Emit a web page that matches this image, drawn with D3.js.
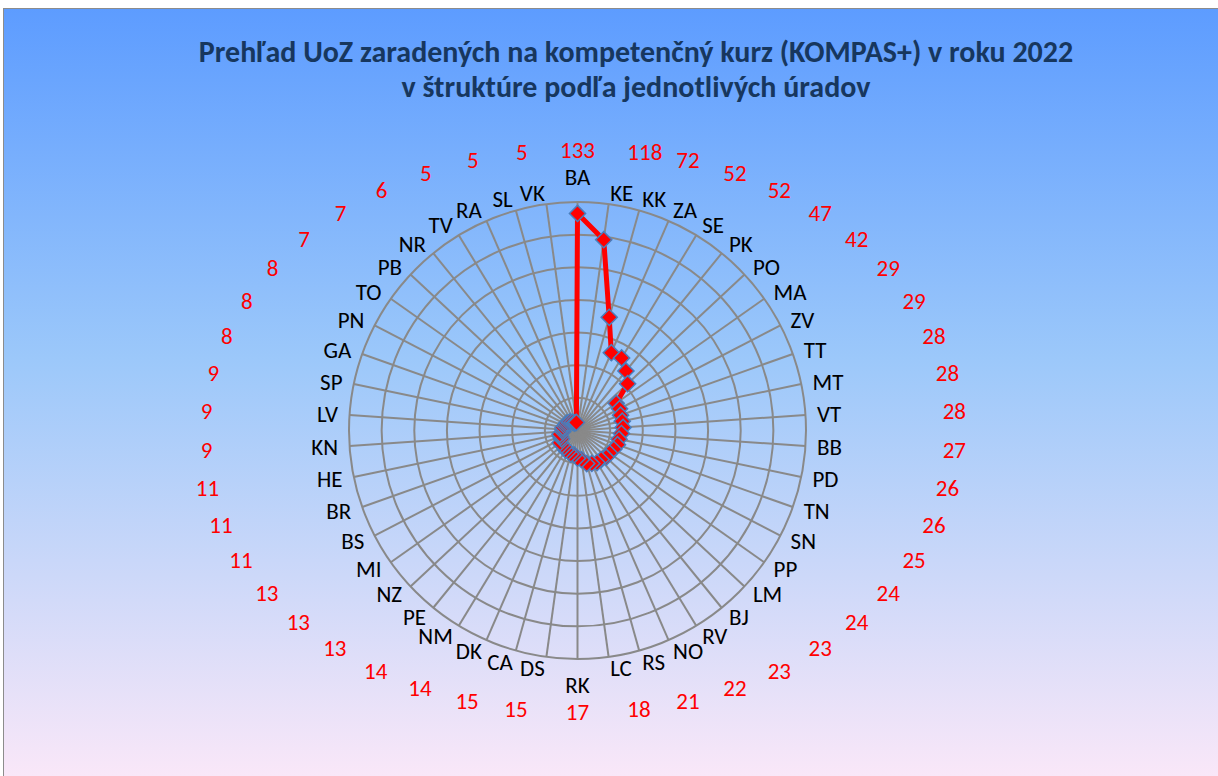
<!DOCTYPE html>
<html>
<head>
	<meta charset="utf-8">
	<title>KOMPAS+ 2022</title>
	<script type="text/javascript" src="https://cdnjs.cloudflare.com/ajax/libs/d3/7.8.5/d3.min.js"></script>
	<style>
		body { margin: 0; background: #fff; }
		text { font-family: Carlito, Calibri, "Open Sans", "Noto Sans", sans-serif; }
	</style>
</head>
<body>
	<svg id="chart" width="1218" height="776"></svg>
	<script type="text/javascript">
		// uradi a pocty UoZ
		var offices = ["BA","KE","KK","ZA","SE","PK","PO","MA","ZV","TT","MT","VT","BB","PD","TN","SN","PP","LM","BJ","RV","NO","RS","LC","RK","DS","CA","DK","NM","PE","NZ","MI","BS","BR","HE","KN","LV","SP","GA","PN","TO","PB","NR","TV","RA","SL","VK"];
		var counts = [133,118,72,52,52,47,42,29,29,28,28,28,27,26,26,25,24,24,23,23,22,21,18,17,15,15,14,14,13,13,13,11,11,11,9,9,9,8,8,8,7,7,6,5,5,5];
		var ringTicks = [20,40,60,80,100,120,140];
		var titleLines = ["Prehľad UoZ zaradených na kompetenčný kurz (KOMPAS+)  v roku 2022", "v štruktúre podľa jednotlivých úradov"];

		var svg = d3.select("#chart");
		var cx = 577.5, cy = 430.5, R = 228.5;

		// pozadie s prechodom
		var grad = svg.append("defs").append("linearGradient")
			.attr("id", "bg").attr("x1", 0).attr("y1", 0).attr("x2", 0).attr("y2", 1);
		grad.append("stop").attr("offset", "0").attr("stop-color", "#5d9cff");
		grad.append("stop").attr("offset", "0.45").attr("stop-color", "#9cc8fa");
		grad.append("stop").attr("offset", "1").attr("stop-color", "#fce8f8");

		svg.append("rect")
			.attr("x", 3.5).attr("y", 8.5)
			.attr("width", 1220).attr("height", 780)
			.attr("fill", "url(#bg)")
			.attr("stroke", "#8c8c8c")
			.attr("stroke-width", 1);

		// titul
		svg.selectAll("text.title")
			.data(titleLines)
			.enter().append("text")
			.attr("class", "title")
			.attr("x", 636)
			.attr("y", function (d, i) { return 61.5 + i * 35.5; })
			.attr("text-anchor", "middle")
			.attr("font-size", 30)
			.attr("font-weight", "bold")
			.attr("fill", "#17375e")
			.text(function (d) { return d; });

		var n = offices.length;
		var angle = d3.scaleLinear().domain([0, n]).range([0, 2 * Math.PI]);
		var r = d3.scaleLinear().domain([0, 140]).range([0, R]);

		var g = svg.append("g").attr("transform", "translate(" + cx + "," + cy + ")");

		// mriezka
		g.selectAll("circle.ring")
			.data(ringTicks)
			.enter().append("circle")
			.attr("class", "ring")
			.attr("r", function (d) { return r(d); })
			.attr("fill", "none")
			.attr("stroke", "#898989")
			.attr("stroke-width", 2);

		g.selectAll("line.spoke")
			.data(offices)
			.enter().append("line")
			.attr("class", "spoke")
			.attr("x1", 0).attr("y1", 0)
			.attr("x2", function (d, i) { return R * Math.sin(angle(i)); })
			.attr("y2", function (d, i) { return -R * Math.cos(angle(i)); })
			.attr("stroke", "#898989")
			.attr("stroke-width", 2);

		// popisy okolo kruhu: vpravo zarovnane zlava, vlavo sprava, hore/dole na stred
		function placeLabels(sel, rx, ry, poleShift) {
			sel.each(function (d, i) {
				var a = angle(i), s = Math.sin(a), c = Math.cos(a);
				var t = d3.select(this);
				var pole = Math.abs(s) < 0.01;
				t.attr("x", rx * s)
					.attr("y", pole ? -(ry + poleShift) * c : -ry * c)
					.attr("text-anchor", pole ? "middle" : (s > 0 ? "start" : "end"))
					.attr("dominant-baseline", "central");
			});
		}

		var cats = g.selectAll("text.cat")
			.data(offices)
			.enter().append("text")
			.attr("class", "cat")
			.attr("font-size", 23)
			.attr("fill", "#000")
			.text(function (d) { return d; });
		placeLabels(cats, 240, 240, 14);

		var vals = g.selectAll("text.val")
			.data(counts)
			.enter().append("text")
			.attr("class", "val")
			.attr("font-size", 23)
			.attr("fill", "#ff0000")
			.text(function (d) { return d; });
		placeLabels(vals, 366, 281, 0);

		// seria
		var line = d3.lineRadial()
			.angle(function (d, i) { return angle(i); })
			.radius(function (d) { return r(d); })
			.curve(d3.curveLinearClosed);

		g.append("path")
			.datum(counts)
			.attr("d", line)
			.attr("fill", "none")
			.attr("stroke", "#ff0000")
			.attr("stroke-width", 5)
			.attr("stroke-linejoin", "round");

		var diamond = d3.symbol().type(d3.symbolSquare).size(130);
		g.selectAll("path.mark")
			.data(counts)
			.enter().append("path")
			.attr("class", "mark")
			.attr("d", diamond)
			.attr("transform", function (d, i) {
				var a = angle(i);
				return "translate(" + (r(d) * Math.sin(a)) + "," + (-r(d) * Math.cos(a)) + ") rotate(45)";
			})
			.attr("fill", "#ff0000")
			.attr("stroke", "#4a7ebb")
			.attr("stroke-width", 1.5);
	</script>
</body>
</html>
